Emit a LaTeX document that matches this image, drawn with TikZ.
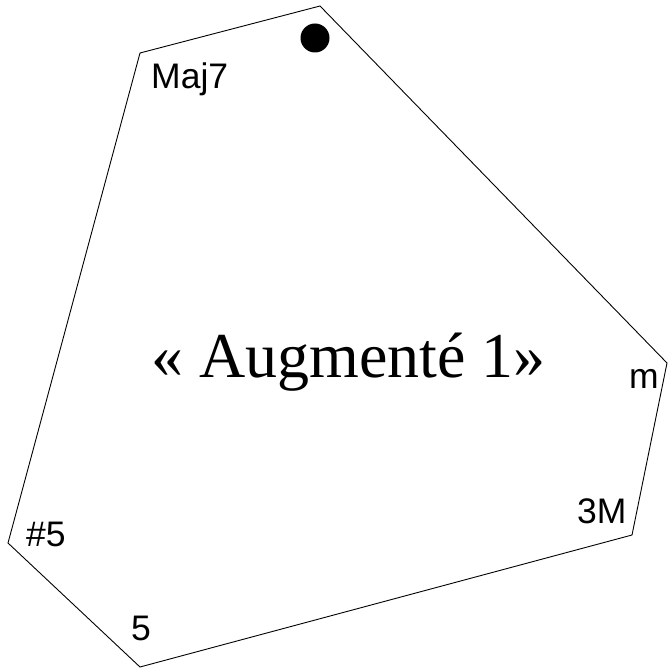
\documentclass[tikz,border=0pt]{standalone}
\usepackage{fontspec}
\setmainfont{Liberation Serif}
\newfontfamily\labelfont{Liberation Sans}
\begin{document}
\begin{tikzpicture}[x=1pt,y=-1pt,
  edge/.style={draw=black,line width=0.9pt,line join=miter},
  vlabel/.style={anchor=base west,inner sep=0pt,font=\labelfont\fontsize{35.5}{38}\selectfont},
  title/.style={anchor=base,inner sep=0pt,font=\fontsize{64}{70}\selectfont}]
\useasboundingbox (0,0) rectangle (668,671);
\coordinate (p1) at (140,53);
\coordinate (p2) at (320,6);
\coordinate (p3) at (667,363);
\coordinate (p4) at (632,535);
\coordinate (p5) at (140,667);
\coordinate (p6) at (8,543);
\draw[edge] (p1) -- (p2) -- (p3) -- (p4) -- (p5) -- (p6) -- cycle;
\fill[black] (315,38) circle[radius=14.5pt];
\node[vlabel] (maj) at (151,89) {Maj7};
\node[vlabel] (m) at (629,388) {m};
\node[vlabel] (tm) at (577,523) {3M};
\node[vlabel] (s5) at (26,546) {\#5};
\node[vlabel] (f) at (131,640) {5};
\node[title] (t) at (348.5,377) {« Augmenté 1»};
\end{tikzpicture}
\end{document}
